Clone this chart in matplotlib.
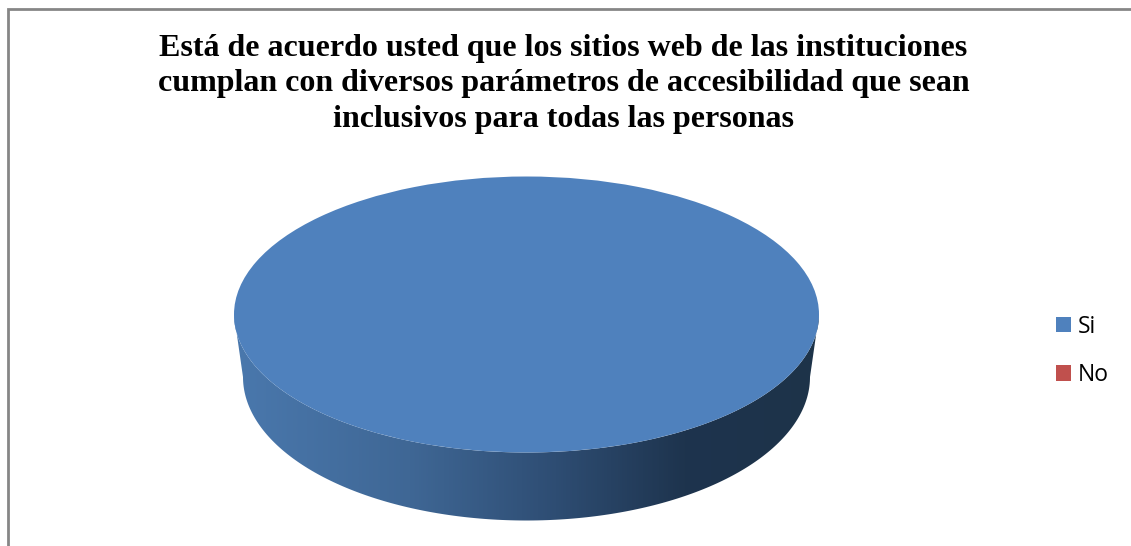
import numpy as np
import matplotlib
matplotlib.use("Agg")
import matplotlib.pyplot as plt
from matplotlib.colors import LinearSegmentedColormap
from matplotlib.patches import Polygon

W, H = 1131, 546

labels = ["Si", "No"]
values = [100, 0]
colors = ["#4f81bd", "#c0504d"]
title = ("Está de acuerdo usted que los sitios web de las instituciones\n"
         "cumplan con diversos parámetros de accesibilidad que sean\n"
         "inclusivos para todas las personas")

fig = plt.figure(figsize=(W / 100, H / 100), dpi=100)

# background axes in pixel coords, for the frame and the side wall of the 3d pie
bg = fig.add_axes([0, 0, 1, 1])
bg.set_xlim(0, W)
bg.set_ylim(H, 0)
bg.axis("off")
bg.plot([8, 8, W], [H, 9, 9], color="#868686", lw=2.0, solid_joinstyle="miter")

# top ellipse and the (slightly smaller) bottom ellipse
cx, cy, a, b = 526.5, 314.5, 292.5, 138
cy2, a2, b2 = 377, 283.5, 143.5

t = np.linspace(np.pi, 0, 200)
top_x = cx + a * np.cos(t)
top_y = cy + b * np.sin(t)
low_x = cx + a2 * np.cos(t)
low_y = cy2 + b2 * np.sin(t)
wall = np.column_stack([np.r_[top_x, low_x[::-1]], np.r_[top_y, low_y[::-1]]])

wall_cmap = LinearSegmentedColormap.from_list(
    "wall", [(0, "#4a78ad"), (0.3, "#3f6795"), (0.55, "#2e4d73"),
             (0.77, "#1e344e"), (1, "#1d3349")])
grad = np.linspace(0, 1, 512).reshape(1, -1)
im = bg.imshow(grad, cmap=wall_cmap, extent=[cx - a, cx + a, 525, 170],
               aspect="auto", zorder=2)
clip = Polygon(wall, closed=True, transform=bg.transData, fc="none", ec="none")
bg.add_patch(clip)
im.set_clip_path(clip)
bg.set_xlim(0, W)
bg.set_ylim(H, 0)

# top face, the pie itself squashed into the ellipse box
ax = fig.add_axes([(cx - a) / W, 1 - (cy + b) / H, 2 * a / W, 2 * b / H])
wedges, _ = ax.pie(values, colors=colors, startangle=90, radius=1.0, counterclock=False)
ax.set_aspect("auto")
ax.set_xlim(-1, 1)
ax.set_ylim(-1, 1)

fig.text(563.5 / W, 1 - 84 / H, title, ha="center", va="center", fontsize=23.05,
         fontweight="bold", family="Liberation Serif", linespacing=1.31, color="black")

leg = fig.legend(wedges, labels, loc="center left", bbox_to_anchor=(1056 / W, 1 - 351 / H),
                 frameon=False, prop={"family": "Open Sans", "size": 16.5},
                 handlelength=0.65, handleheight=0.65, handletextpad=0.32, labelspacing=1.06,
                 borderpad=0, borderaxespad=0)

fig.savefig("out.png", dpi=100)
